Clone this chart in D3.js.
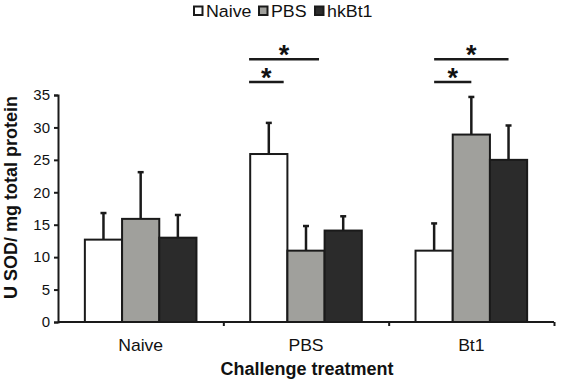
<!DOCTYPE html>
<html><head><meta charset="utf-8">
<script src="https://cdn.jsdelivr.net/npm/d3@7"></script>
<style>body{margin:0;background:#fff}svg{display:block}text{font-family:"Liberation Sans",Arial,sans-serif;fill:#111}</style>
</head><body><svg id="c" width="561" height="381"></svg>
<script>
const categories = ["Naive", "PBS", "Bt1"];
const series = ["Naive", "PBS", "hkBt1"];
const colors = ["#ffffff", "#a0a09c", "#2b2b2b"];
const means = [[12.7, 15.9, 13.0], [25.9, 11.0, 14.1], [11.0, 28.9, 25.0]];
const errors = [[4.1, 7.2, 3.5], [4.8, 3.8, 2.2], [4.2, 5.8, 5.3]];
const yTicks = [0, 5, 10, 15, 20, 25, 30, 35];
// significance brackets: group, start/end in bar-width units from group centre, height in data units
const sigGroups = ["PBS", "PBS", "Bt1", "Bt1"];
const sigStart = [-1.53, -1.53, -1.0, -1.0];
const sigEnd = [0.35, -0.6, 1.0, 0.0];
const sigLevel = [40.5, 37.0, 40.5, 37.0];

const svg = d3.select("#c");
const m = {l: 58, r: 7, t: 95, b: 59};
const W = 561, H = 381;
const x = d3.scaleBand().domain(categories).range([m.l, W - m.r]).paddingInner(0).paddingOuter(0);
const y = d3.scaleLinear().domain([0, 35]).range([H - m.b, m.t]);
const barW = x.bandwidth() * 0.225;
const offs = series.map((s, i) => (i - 1) * barW);

// bars
categories.forEach((c, ci) => {
  const cx = x(c) + x.bandwidth() / 2;
  series.forEach((s, si) => {
    const v = means[ci][si], e = errors[ci][si];
    const bx = cx + offs[si] - barW / 2;
    const ex = cx + offs[si];
    svg.append("line").attr("x1", ex).attr("x2", ex).attr("y1", y(v)).attr("y2", y(v + e))
      .attr("stroke", "#1a1a1a").attr("stroke-width", 2.5);
    svg.append("line").attr("x1", ex - 3).attr("x2", ex + 3).attr("y1", y(v + e)).attr("y2", y(v + e))
      .attr("stroke", "#1a1a1a").attr("stroke-width", 2.5);
    svg.append("rect").attr("x", bx).attr("y", y(v)).attr("width", barW).attr("height", y(0) - y(v))
      .attr("fill", colors[si]).attr("stroke", "#1a1a1a").attr("stroke-width", 2);
  });
});

// axes
const yAxis = d3.axisLeft(y).tickValues(yTicks).tickSize(4).tickPadding(4);
const gy = svg.append("g").attr("transform", `translate(${m.l},0)`).call(yAxis);
gy.select(".domain").attr("stroke", "#1a1a1a").attr("stroke-width", 2);
gy.selectAll(".tick line").attr("stroke", "#1a1a1a").attr("stroke-width", 2);
gy.selectAll(".tick text").attr("font-size", 15).attr("font-family", "Liberation Sans, Arial").attr("fill", "#111");

const xb = d3.scaleLinear().domain([0, 3]).range([m.l, W - m.r]);
const gx = svg.append("g").attr("transform", `translate(0,${H - m.b})`)
  .call(d3.axisBottom(xb).tickValues([0, 1, 2, 3]).tickSize(4).tickFormat(""));
gx.select(".domain").attr("stroke", "#1a1a1a").attr("stroke-width", 2).attr("d", `M${m.l},0H${W - m.r}`);
gx.selectAll(".tick line").attr("stroke", "#1a1a1a").attr("stroke-width", 2);
gx.selectAll(".tick").filter(d => d === 0).remove();

svg.append("g").selectAll("text").data(categories).join("text")
  .attr("transform", d => `translate(${x(d) + x.bandwidth() / 2},${H - m.b + 29}) scale(1.1,1)`)
  .attr("text-anchor", "middle").attr("font-size", 16).text(d => d);

svg.append("text").attr("x", 307).attr("y", 375).attr("text-anchor", "middle")
  .attr("font-size", 18).attr("font-weight", "bold").text("Challenge treatment");

svg.append("text").attr("transform", `translate(16.5,197.5) rotate(-90)`)
  .attr("text-anchor", "middle").attr("font-size", 18).attr("font-weight", "bold")
  .text("U SOD/ mg total protein");

// significance
sigGroups.forEach((g, i) => {
  const cx = x(g) + x.bandwidth() / 2;
  const x1 = cx + sigStart[i] * barW, x2 = cx + sigEnd[i] * barW;
  svg.append("line").attr("x1", x1).attr("x2", x2).attr("y1", y(sigLevel[i])).attr("y2", y(sigLevel[i]))
    .attr("stroke", "#1a1a1a").attr("stroke-width", 2.5);
  svg.append("text").attr("x", (x1 + x2) / 2).attr("y", y(sigLevel[i]) + 5)
    .attr("text-anchor", "middle").attr("font-size", 27).attr("font-weight", "bold").text("*");
});

// legend
const legX = [193, 258, 314];
series.forEach((s, i) => {
  svg.append("rect").attr("x", legX[i] + 1).attr("y", 6.5).attr("width", 8.5).attr("height", 8.5)
    .attr("fill", colors[i]).attr("stroke", "#1a1a1a").attr("stroke-width", 2);
  svg.append("text").attr("transform", `translate(${legX[i] + 13},16.5) scale(1.08,1)`)
    .attr("font-size", 16.5).text(s);
});
</script></body></html>
